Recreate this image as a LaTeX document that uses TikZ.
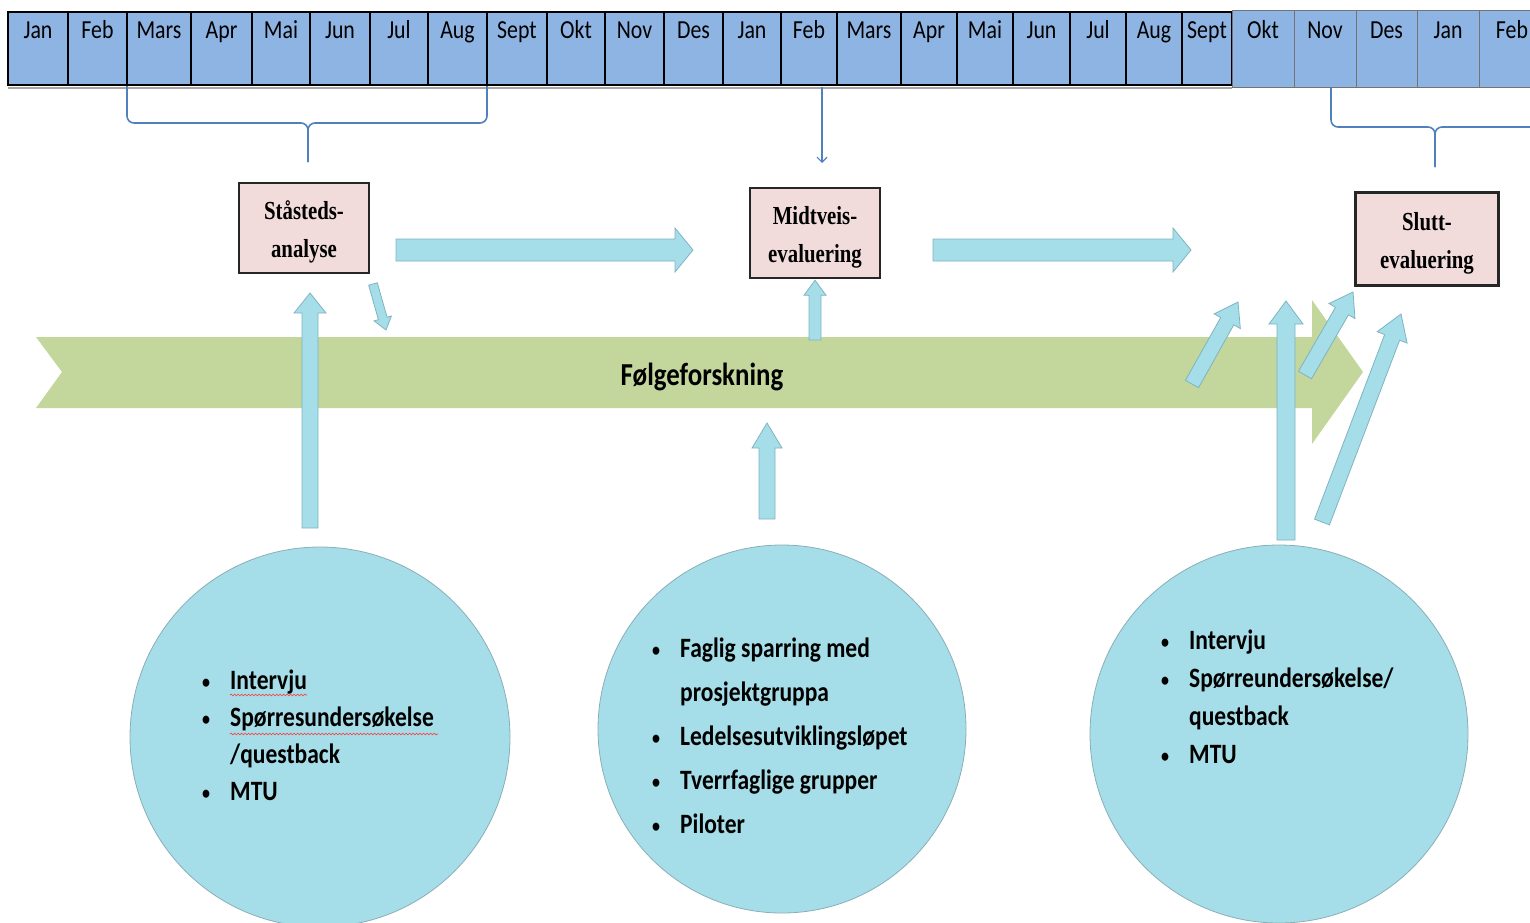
\documentclass[tikz,border=0pt]{standalone}
\usepackage{fontspec}
\usepackage{tikz}
\usetikzlibrary{calc,arrows.meta,decorations.pathmorphing}
\newfontfamily\califont[FakeStretch=0.84]{Carlito}
\newfontfamily\timesfont[FakeStretch=0.8]{Liberation Serif}
\definecolor{calblue}{HTML}{8EB4E3}
\definecolor{pinkbox}{HTML}{F2DCDB}
\definecolor{arrblue}{HTML}{A5DEE8}
\definecolor{arrline}{HTML}{7FB3C2}
\definecolor{circline}{HTML}{8AAEB8}
\definecolor{greenband}{HTML}{C3D69B}
\definecolor{braceblue}{HTML}{4F81BD}
% block arrow: start, tip, shaft half width, head half width, head length
\newcommand{\blockarr}[5]{%
  \coordinate (ba-b) at ($(#2)!#5!(#1)$);
  \filldraw[blockarrow] ($(#1)!#3!90:(#2)$) -- ($(ba-b)!#3!90:(#2)$) -- ($(ba-b)!#4!90:(#2)$) -- (#2)
    -- ($(ba-b)!#4!-90:(#2)$) -- ($(ba-b)!#3!-90:(#2)$) -- ($(#1)!#3!-90:(#2)$) -- cycle;}
\newcommand{\bul}{\raisebox{1pt}{\fontsize{19}{19}\selectfont\textbullet}}
\newcommand{\bstrut}{\rule{0pt}{27pt}}

\begin{document}
\begin{tikzpicture}[x=1pt,y=-1pt,
  cell/.style={draw=black,line width=1.5pt,fill=calblue},
  cellb/.style={draw=black!55,line width=0.8pt,fill=calblue},
  mlabel/.style={anchor=base,inner sep=0pt,font=\califont\fontsize{26}{30}\selectfont},
  evalbox/.style={draw=black!85,line width=2.5pt,fill=pinkbox,align=center,minimum width=130pt,minimum height=90pt,inner sep=0pt,font=\timesfont\bfseries\fontsize{26}{38}\selectfont},
  blob/.style={circle,draw=circline,fill=arrblue,line width=0.8pt,inner sep=0pt},
  blockarrow/.style={fill=arrblue,draw=arrline,line width=0.8pt,line join=miter},
  brace/.style={draw=braceblue,line width=1.6pt,rounded corners=7pt},
  listtext/.style={anchor=base west,inner sep=0pt,font=\califont\bfseries\fontsize{28}{37}\selectfont},
  spell/.style={draw=red!80,line width=0.6pt,decorate,decoration={snake,amplitude=0.9pt,segment length=3.5pt}}]
\useasboundingbox (0,0) rectangle (1530,922);
\clip (0,0) rectangle (1530,922);

% calendar
\foreach \l/\r/\m [count=\i] in {8/68/Jan,68/127/Feb,127/191/Mars,191/252/Apr,252/310/Mai,310/370/Jun,370/428/Jul,428/487/Aug,487/547/Sept,547/605/Okt,605/664/Nov,664/723/Des,723/781/Jan,781/837/Feb,837/901/Mars,901/957/Apr,957/1013/Mai,1013/1070/Jun,1070/1126/Jul,1126/1182/Aug,1182/1232/Sept}
{
  \draw[cell] (\l,12) rectangle (\r,85);
  \node[mlabel] (m\i) at ({(\l+\r)/2},38) {\m};
}
\draw[black!35,line width=2pt] (8,88) -- (1232,88);
\draw[line width=2.5pt] (8,12) rectangle (1232,85);
\foreach \l/\r/\m [count=\i from 22] in {1232/1294/Okt,1294/1356/Nov,1356/1417/Des,1417/1479/Jan,1479/1545/Feb}
{
  \draw[cellb] (\l,10) rectangle (\r,87);
  \node[mlabel] (m\i) at ({(\l+\r)/2},38) {\m};
}

% brackets
\draw[brace] (127,86) |- (308,123) -- (308,162);
\draw[brace] (487,86) |- (308,123) -- (308,162);
\draw[brace] (1331,88) |- (1435,127) -- (1435,167);
\draw[brace] (1540,127) -- (1435,127) -- (1435,167);
\coordinate (calb) at (822,87);
\coordinate (calt) at (822,163);
\draw[braceblue,line width=1.2pt,-{Straight Barb[length=5pt,width=10pt]}] (calb) -- (calt);

% following research band
\fill[greenband] (36,337) -- (1312,337) -- (1312,300) -- (1363,372) -- (1312,444) -- (1312,408) -- (36,408) -- (62,372) -- cycle;
\node[font=\califont\bfseries\fontsize{32}{36}\selectfont] (folge) at (702,377) {Følgeforskning};

% evaluation boxes
\node[evalbox] (stasted) at (304,228) {\bstrut Ståsteds-\\analyse};
\node[evalbox] (midtveis) at (815,233) {\bstrut Midtveis-\\evaluering};
\node[evalbox,minimum width=143pt,minimum height=93pt] (slutt) at (1427,239) {\bstrut Slutt-\\evaluering};

% block arrows
\coordinate (h1s) at (396,250);  \coordinate (h1t) at (693,250);
\coordinate (h2s) at (933,250);  \coordinate (h2t) at (1191,250);
\coordinate (v1s) at (310,528);  \coordinate (v1t) at (310,293);
\coordinate (d0s) at (373,284);  \coordinate (d0t) at (386,330);
\coordinate (v2s) at (815,340);  \coordinate (v2t) at ($(midtveis.south)+(0,1)$);
\coordinate (v3s) at (767,519);  \coordinate (v3t) at (767,423);
\coordinate (d1s) at (1192,384); \coordinate (d1t) at (1238,302);
\coordinate (v4s) at (1286,540); \coordinate (v4t) at (1286,301);
\coordinate (d2s) at (1305,375); \coordinate (d2t) at (1353,292);
\coordinate (d3s) at (1322,522); \coordinate (d3t) at (1401,314);
\blockarr{h1s}{h1t}{11pt}{22pt}{18pt}
\blockarr{h2s}{h2t}{11pt}{22pt}{18pt}
\blockarr{v1s}{v1t}{8pt}{16pt}{20pt}
\blockarr{d0s}{d0t}{4.5pt}{9pt}{12pt}
\blockarr{v2s}{v2t}{6pt}{11pt}{15pt}
\blockarr{v3s}{v3t}{8pt}{15pt}{25pt}
\blockarr{d1s}{d1t}{7.5pt}{15pt}{22pt}
\blockarr{v4s}{v4t}{9pt}{17pt}{23pt}
\blockarr{d2s}{d2t}{7.5pt}{15pt}{22pt}
\blockarr{d3s}{d3t}{8pt}{16pt}{25pt}

% method circles
\node[blob,minimum size=380pt] (c1) at (320,737) {};
\node[blob,minimum size=368pt] (c2) at (782,729) {};
\node[blob,minimum size=378pt] (c3) at (1279,734) {};

\node[listtext] (l1) at (202,689) {\begin{tabular}[t]{@{}p{28pt}@{}l@{}}
\bul & Intervju\\
\bul & Spørresundersøkelse\\
 & /questback\\
\bul & MTU
\end{tabular}};
\draw[spell] (230,695) -- (307,695);
\draw[spell] (230,734) -- (438,734);

\node[listtext,font=\califont\bfseries\fontsize{28}{44}\selectfont] (l2) at (652,657) {\begin{tabular}[t]{@{}p{28pt}@{}l@{}}
\bul & Faglig sparring med\\
 & prosjektgruppa\\
\bul & Ledelsesutviklingsløpet\\
\bul & Tverrfaglige grupper\\
\bul & Piloter
\end{tabular}};

\node[listtext,font=\califont\bfseries\fontsize{28}{38}\selectfont] (l3) at (1161,649) {\begin{tabular}[t]{@{}p{28pt}@{}l@{}}
\bul & Intervju\\
\bul & Spørreundersøkelse/\\
 & questback\\
\bul & MTU
\end{tabular}};
\end{tikzpicture}
\end{document}
